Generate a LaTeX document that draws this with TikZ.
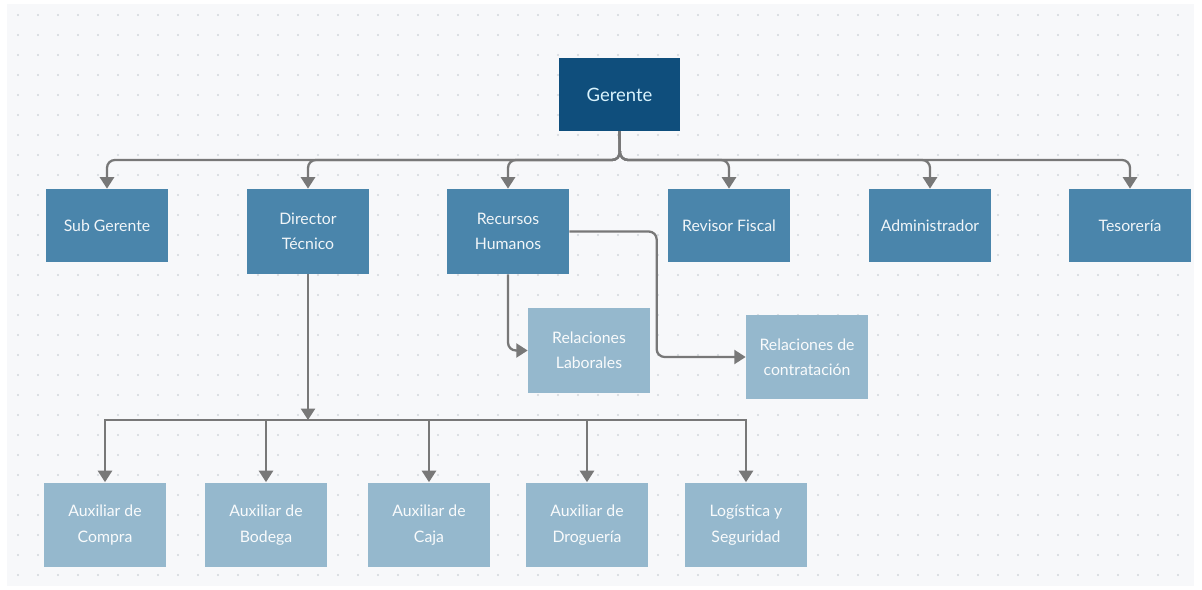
\documentclass[tikz,border=0pt]{standalone}
\usepackage{fontspec}
\setmainfont{Lato}
\usetikzlibrary{arrows.meta,calc}
\definecolor{paper}{HTML}{F7F8FA}
\definecolor{paperdot}{HTML}{D2D6DB}
\definecolor{boss}{HTML}{0F4E7C}
\definecolor{mid}{HTML}{4A85AB}
\definecolor{pale}{HTML}{95B8CD}
\definecolor{wire}{HTML}{787878}
\tikzstyle{manager} = [rectangle, fill=boss, text=white!85!cyan, text centered, minimum width=2.42cm, minimum height=1.46cm, inner sep=0pt, font=\fontsize{10.5}{14}\selectfont]
\tikzstyle{dept} = [rectangle, fill=mid, text=white!92!mid, align=center, minimum width=2.44cm, minimum height=1.46cm, inner sep=0pt, font=\fontsize{9}{14.5}\selectfont]
\tikzstyle{staff} = [dept, fill=pale, text=white!94!pale]
\tikzstyle{tall} = [minimum height=1.7cm]
\tikzstyle{link} = [draw=wire, line width=1.3pt, -{Triangle[width=8pt,length=6.5pt]}, rounded corners=4.5pt]

\begin{document}
\begin{tikzpicture}[x=0.02cm, y=-0.02cm]
    \useasboundingbox (0,0) rectangle (1202,590);
    % dotted paper
    \fill [paper] (7,4) rectangle (1194,586);
    \foreach \x in {18,38,...,1190}
        \foreach \y in {15,35,...,580}
            \fill [paperdot] (\x,\y) circle [radius=0.6pt];

    \node (ger) [manager] at (619.5,94.5) {Gerente};

    \node (sub) [dept] at (107,225.5) {Sub Gerente};
    \node (dir) [dept, tall] at (308,231.5) {Director\\Técnico};
    \node (rh) [dept, tall] at (508,231.5) {Recursos\\Humanos};
    \node (rev) [dept] at (729,225.5) {Revisor Fiscal};
    \node (adm) [dept] at (930,225.5) {Administrador};
    \node (tes) [dept] at (1130,225.5) {Tesorería};

    \node (rl) [staff, tall] at (589,350.5) {Relaciones\\Laborales};
    \node (rc) [staff, tall] at (807,357) {Relaciones de\\contratación};

    \node (aux1) [staff, tall] at (105,525) {Auxiliar de\\Compra};
    \node (aux2) [staff, tall] at (266,525) {Auxiliar de\\Bodega};
    \node (aux3) [staff, tall] at (429,525) {Auxiliar de\\Caja};
    \node (aux4) [staff, tall] at (587,525) {Auxiliar de\\Droguería};
    \node (aux5) [staff, tall] at (746,525) {Logística y\\Seguridad};

    \coordinate (top) at (620,160);
    \coordinate (low) at (308,420);

    \foreach \n in {sub,dir,rh,rev,adm,tes}
        \draw [link] (ger.south) -- (top) -| (\n.north);
    \draw [link] (dir.south) -- (low);
    \foreach \n in {aux1,aux2,aux3,aux4,aux5}
        \draw [link, sharp corners] (low) -| (\n.north);
    \draw [link] (rh.south) |- (rl.west);
    \draw [link] (rh.east) -| ($(rc.west)+(-89,0)$) -- (rc.west);
\end{tikzpicture}
\end{document}
